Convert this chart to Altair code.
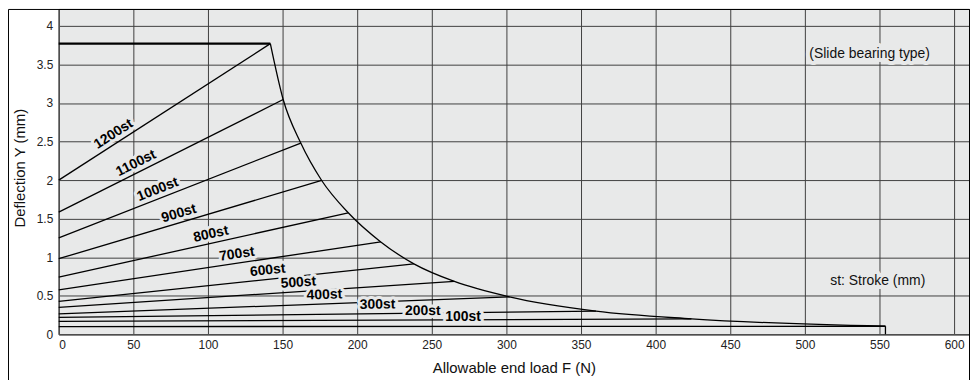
import math
import altair as alt
import pandas as pd

# ---- data ----
strokes = ["1200st", "1100st", "1000st", "900st", "800st", "700st",
           "600st", "500st", "400st", "300st", "200st", "100st"]
y_at_zero = [2.0, 1.585, 1.25, 0.98, 0.74, 0.577, 0.426, 0.35, 0.264, 0.22, 0.168, 0.10]
x_limit = [141.8, 150.4, 162.2, 176.2, 194.0, 215.8, 238.0, 265.1, 302.0, 360.0, 424.0, 554.0]
y_limit = [3.77, 3.045, 2.48, 1.995, 1.576, 1.198, 0.913, 0.685, 0.485, 0.30, 0.20, 0.104]
label_x = [40.0, 54.5, 68.5, 82.3, 103.3, 120.3, 140.7, 161.0, 178.3, 213.7, 244.0, 271.0]

x_ticks = list(range(0, 601, 50))
y_ticks = [0, 0.5, 1, 1.5, 2, 2.5, 3, 3.5, 4]

notes = ["(Slide bearing type)", "st: Stroke (mm)"]
note_x = [503.0, 517.0]
note_y = [3.64, 0.688]

# ---- layout / style ----
W, H = 915, 327
X_DOM = [0, 610]
Y_DOM = [0, 4.22]
BG = "#e8e9e9"
FONT = "Liberation Sans"

px_x = W / (X_DOM[1] - X_DOM[0])
px_y = H / (Y_DOM[1] - Y_DOM[0])

lines = pd.DataFrame({"stroke": strokes, "x0": [0.0] * len(strokes), "y0": y_at_zero,
                      "x1": x_limit, "y1": y_limit})

lab = lines.copy()
lab["lx"] = label_x
lab["ly"] = lab["y0"] + (lab["y1"] - lab["y0"]) * lab["lx"] / lab["x1"]
lab["ang"] = [(360 - math.degrees(math.atan((b - a) * px_y / (c * px_x)))) % 360
              for a, b, c in zip(y_at_zero, y_limit, x_limit)]

curve = pd.DataFrame({"x": x_limit, "y": y_limit})
cap = pd.DataFrame({"x0": [0.0], "x1": [x_limit[0]], "y": [y_limit[0]]})
drop = pd.DataFrame({"x": [x_limit[-1]], "y0": [0.0], "y1": [y_limit[-1]]})
note_df = pd.DataFrame({"t": notes, "x": note_x, "y": note_y})

xs = alt.Scale(domain=X_DOM, nice=False, zero=False)
ys = alt.Scale(domain=Y_DOM, nice=False, zero=False)

x_axis = alt.Axis(title="Allowable end load F (N)", values=x_ticks, labelPadding=5,
                  titleX=W / 2, titleY=33, titleBaseline="middle", titleAlign="center")
y_axis = alt.Axis(title="Deflection Y (mm)", values=y_ticks, format="~g", labelPadding=6,
                  titleX=-39, titleY=159.5, titleAngle=270, titleAlign="center",
                  titleBaseline="middle")


def X(f):
    return alt.X(f, scale=xs, axis=x_axis)


def Y(f):
    return alt.Y(f, scale=ys, axis=y_axis)


rules = alt.Chart(lines).mark_rule(color="black", strokeWidth=1.3).encode(
    x=X("x0:Q"), y=Y("y0:Q"), x2="x1:Q", y2="y1:Q",
)

curve_l = alt.Chart(curve).mark_line(color="black", strokeWidth=1.3, interpolate="monotone").encode(
    x=X("x:Q"), y=Y("y:Q"), order="x:Q",
)

cap_l = alt.Chart(cap).mark_rule(color="black", strokeWidth=2.2).encode(
    x=X("x0:Q"), x2="x1:Q", y=Y("y:Q"),
)

drop_l = alt.Chart(drop).mark_rule(color="black", strokeWidth=1.3).encode(
    x=X("x:Q"), y=Y("y0:Q"), y2="y1:Q",
)

lab_enc = dict(
    x=X("lx:Q"), y=Y("ly:Q"),
    angle=alt.Angle("ang:Q", scale=None),
    text="stroke:N",
)
halo = alt.Chart(lab).mark_text(font=FONT, fontSize=14, fontWeight="bold", baseline="middle",
                                align="center", dy=-9, color=BG, stroke=BG, strokeWidth=6,
                                strokeJoin="round").encode(**lab_enc)
labels = alt.Chart(lab).mark_text(font=FONT, fontSize=14, fontWeight="bold", baseline="middle",
                                  align="center", dy=-9, color="black").encode(**lab_enc)

note_enc = dict(x=X("x:Q"), y=Y("y:Q"), text="t:N")
note_halo = alt.Chart(note_df).mark_text(font=FONT, fontSize=14, align="left", baseline="middle",
                                         color=BG, stroke=BG, strokeWidth=8,
                                         strokeJoin="round").encode(**note_enc)
note_txt = alt.Chart(note_df).mark_text(font=FONT, fontSize=14, align="left", baseline="middle",
                                        color="#111").encode(**note_enc)

frame = alt.Chart(pd.DataFrame({"a": [0]})).mark_rect(
    fillOpacity=0, stroke="black", strokeWidth=1).encode(
    x=alt.value(-50.5), x2=alt.value(W + 0.5), y=alt.value(0.5), y2=alt.value(400))

chart = alt.layer(rules, curve_l, cap_l, drop_l, halo, labels, note_halo, note_txt, frame).properties(
    width=W, height=H,
    autosize=alt.AutoSizeParams(type="none"),
    padding={"left": 51, "top": 0, "right": 3, "bottom": 45},
    background="white",
).configure_view(
    fill=BG, stroke="black", strokeWidth=1
).configure_axis(
    labelFont=FONT, titleFont=FONT, labelFontSize=12, titleFontSize=15,
    titleFontWeight="normal", labelColor="#222", titleColor="#111",
    grid=True, gridColor="#404040", gridWidth=1, gridOpacity=1,
    ticks=False, domainColor="#555", domainWidth=1,
)

chart.save("out.html", embed_options={"renderer": "svg", "actions": False})
